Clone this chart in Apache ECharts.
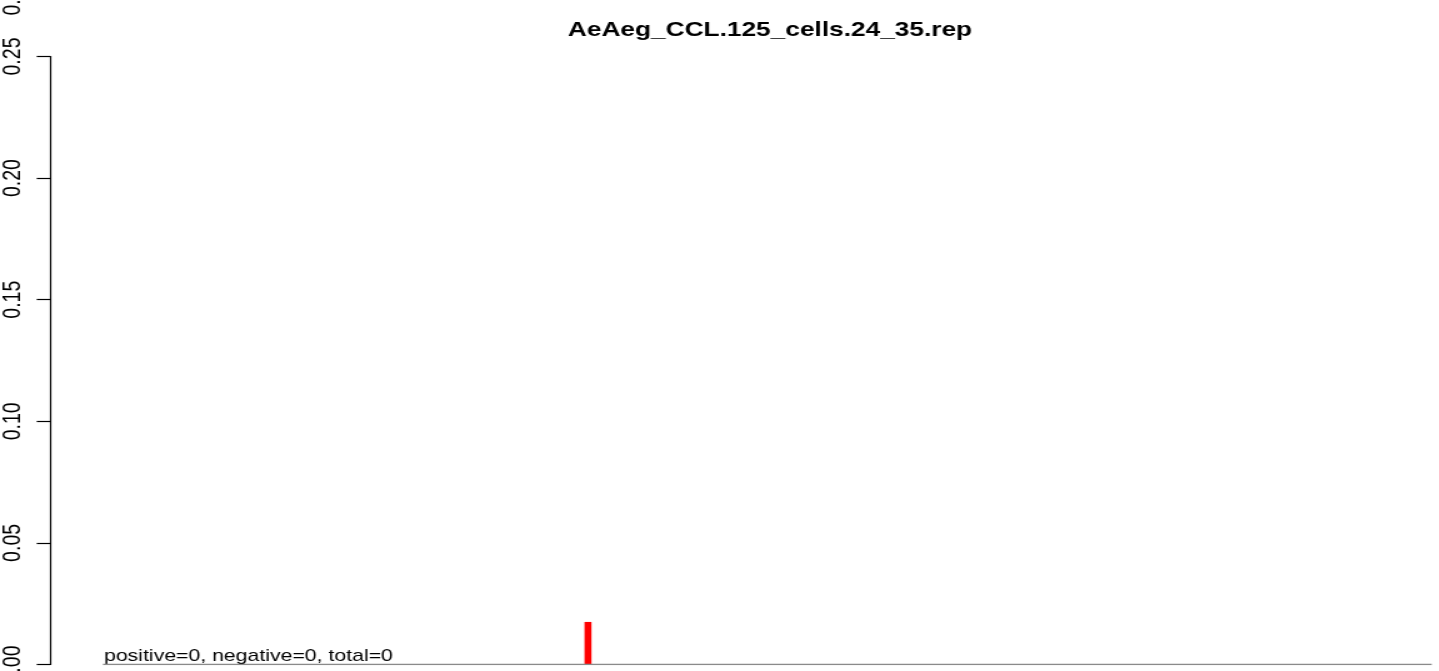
<!DOCTYPE html>
<html>
<head>
<meta charset="utf-8">
<script src="https://cdn.jsdelivr.net/npm/echarts@6/dist/echarts.min.js"></script>
<style>
  html, body { margin: 0; padding: 0; background: #fff; overflow: hidden; }
  #wrap { width: 1439px; height: 671px; overflow: hidden; }
  #chart { width: 1151.2px; height: 671px; transform: scaleX(1.25); transform-origin: 0 0; }
</style>
</head>
<body>
<div id="wrap"><div id="chart"></div></div>
<script>
// ---- data ----
const titleText = 'AeAeg_CCL.125_cells.24_35.rep';
const statsText = 'positive=0, negative=0, total=0';
const positions = [365];          // x position of each bar
const values = [0.0175];          // bar heights
const baselineRange = [0, 1000];  // extent of the zero line
const xAxisRange = [-39.5, 1000]; // plotted x range (axis sits left of the data)
const yTickLabels = ['0.00', '0.05', '0.10', '0.15', '0.20', '0.25'];
const yMin = 0, yMax = 0.25, yStep = 0.05;
const cutLabel = '0.30';          // partially visible label at the top edge

const FONT = "'Liberation Sans', Arial, Helvetica, sans-serif";
const chart = echarts.init(document.getElementById('chart'));

chart.setOption({
  animation: false,
  backgroundColor: '#fff',
  grid: { left: 40.4, right: 5.6, top: 56.5, bottom: 6.5, outerBoundsMode: 'none', containLabel: false },
  xAxis: { type: 'value', min: xAxisRange[0], max: xAxisRange[1], show: false },
  yAxis: {
    type: 'value', min: yMin, max: yMax, interval: yStep,
    axisLine: { show: true, onZero: false, lineStyle: { color: '#000', width: 1.2 } },
    axisTick: { show: true, length: 11, lineStyle: { color: '#000', width: 1.2 } },
    axisLabel: {
      rotate: 90, margin: 20, fontSize: 19.5, color: '#000', fontFamily: FONT,
      showMinLabel: true, showMaxLabel: true, hideOverlap: false,
      formatter: function (v) { return yTickLabels[Math.round((v - yMin) / yStep)] || v.toFixed(2); }
    },
    splitLine: { show: false }
  },
  graphic: [
    { type: 'text', x: 616, y: 30.5, style: { text: titleText, font: "bold 21px " + FONT, fill: '#000', align: 'center', verticalAlign: 'middle' } },
    { type: 'text', x: 83.2, y: 656.5, style: { text: statsText, font: "17px " + FONT, fill: '#000', align: 'left', verticalAlign: 'middle' } },
    { type: 'text', x: 11, y: -3.5, rotation: Math.PI / 2, style: { text: cutLabel, font: "19.5px " + FONT, fill: '#000', align: 'center', verticalAlign: 'middle' } }
  ],
  series: [
    {
      type: 'bar', barWidth: 5.6, z: 2,
      itemStyle: { color: '#ff0000' },
      data: positions.map((p, i) => [p, values[i]])
    },
    {
      type: 'line', symbol: 'none', z: 3,
      lineStyle: { color: '#8a8a8a', width: 1.6 },
      data: [[baselineRange[0], 0], [baselineRange[1], 0]]
    }
  ]
});
</script>
</body>
</html>
